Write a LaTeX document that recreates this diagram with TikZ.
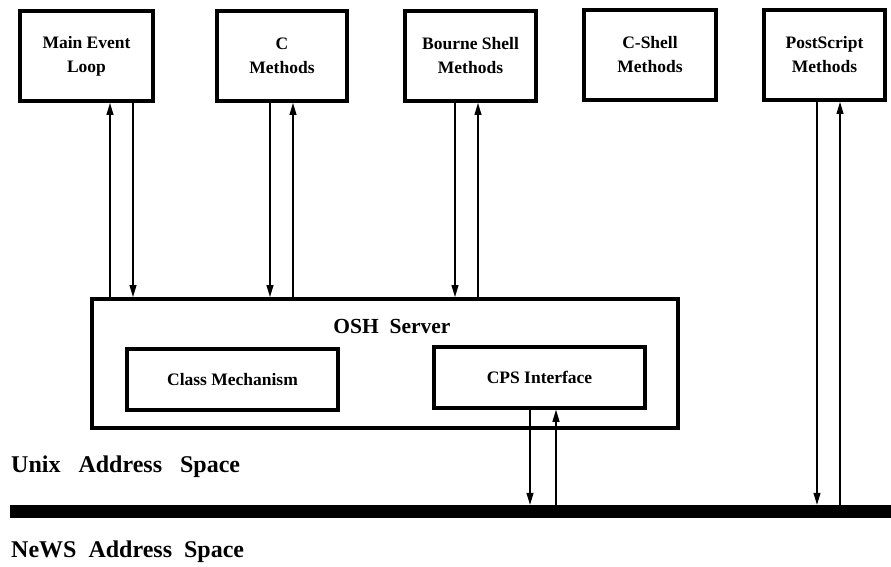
\documentclass[tikz,border=0pt]{standalone}
\usepackage{fontspec}
\setmainfont{Liberation Serif}
\usetikzlibrary{arrows.meta}
\begin{document}
\begin{tikzpicture}[x=1pt,y=-1pt,
  topbox/.style={draw=black,line width=4pt,minimum width=#1,minimum height=90pt,inner sep=0pt,align=center,font=\bfseries\fontsize{17.5}{24}\selectfont},
  inbox/.style={draw=black,line width=3.5pt,minimum width=211pt,minimum height=61pt,inner sep=0pt,font=\bfseries\fontsize{17.5}{20}\selectfont},
  arr/.style={line width=1.1pt,-{Triangle[length=12pt,width=7pt]}},
  lbl/.style={inner sep=0pt,anchor=west,font=\bfseries\fontsize{24}{28}\selectfont}]
\useasboundingbox (0,0) rectangle (891,567);
% top boxes
\node[topbox=133pt] (main) at (86.5,56) {Main Event\\Loop};
\node[topbox=130pt] (cm) at (282,56) {C\\Methods};
\node[topbox=131pt] (bsh) at (470.5,56) {Bourne Shell\\Methods};
\node[topbox=132pt] (csh) at (650,55) {C-Shell\\Methods};
\node[topbox=121pt] (ps) at (824.5,55) {PostScript\\Methods};
% server
\node[draw=black,line width=4pt,minimum width=586pt,minimum height=129pt,inner sep=0pt] (osh) at (385,363.5) {};
\node[inner sep=0pt,font=\bfseries\fontsize{21.5}{24}\selectfont] (oshl) at (392,326) {OSH\ \ Server};
\node[inbox] (cls) at (232.5,379.5) {Class Mechanism};
\node[inbox] (cps) at (539.5,377.5) {CPS Interface};
% bar
\node[fill=black,minimum width=881pt,minimum height=13pt,inner sep=0pt] (bar) at (450.5,511.5) {};
\node[lbl] (unix) at (11,467) {Unix\ \ \ Address\ \ \ Space};
\node[lbl] (news) at (11,552) {NeWS\ \ Address\ \ Space};
% x positions
\coordinate (a1) at (110,0); \coordinate (a2) at (133,0);
\coordinate (b1) at (270,0); \coordinate (b2) at (293,0);
\coordinate (c1) at (455,0); \coordinate (c2) at (478,0);
\coordinate (d1) at (530,0); \coordinate (d2) at (556,0);
\coordinate (e1) at (817,0); \coordinate (e2) at (840,0);
% connectors
\draw[arr] (osh.north -| a1) -- (main.south -| a1);
\draw[arr] (main.south -| a2) -- (osh.north -| a2);
\draw[arr] (cm.south -| b1) -- (osh.north -| b1);
\draw[arr] (osh.north -| b2) -- (cm.south -| b2);
\draw[arr] (bsh.south -| c1) -- (osh.north -| c1);
\draw[arr] (osh.north -| c2) -- (bsh.south -| c2);
\draw[arr] (cps.south -| d1) -- (bar.north -| d1);
\draw[arr] (bar.north -| d2) -- (cps.south -| d2);
\draw[arr] (ps.south -| e1) -- (bar.north -| e1);
\draw[arr] (bar.north -| e2) -- (ps.south -| e2);
\end{tikzpicture}
\end{document}
